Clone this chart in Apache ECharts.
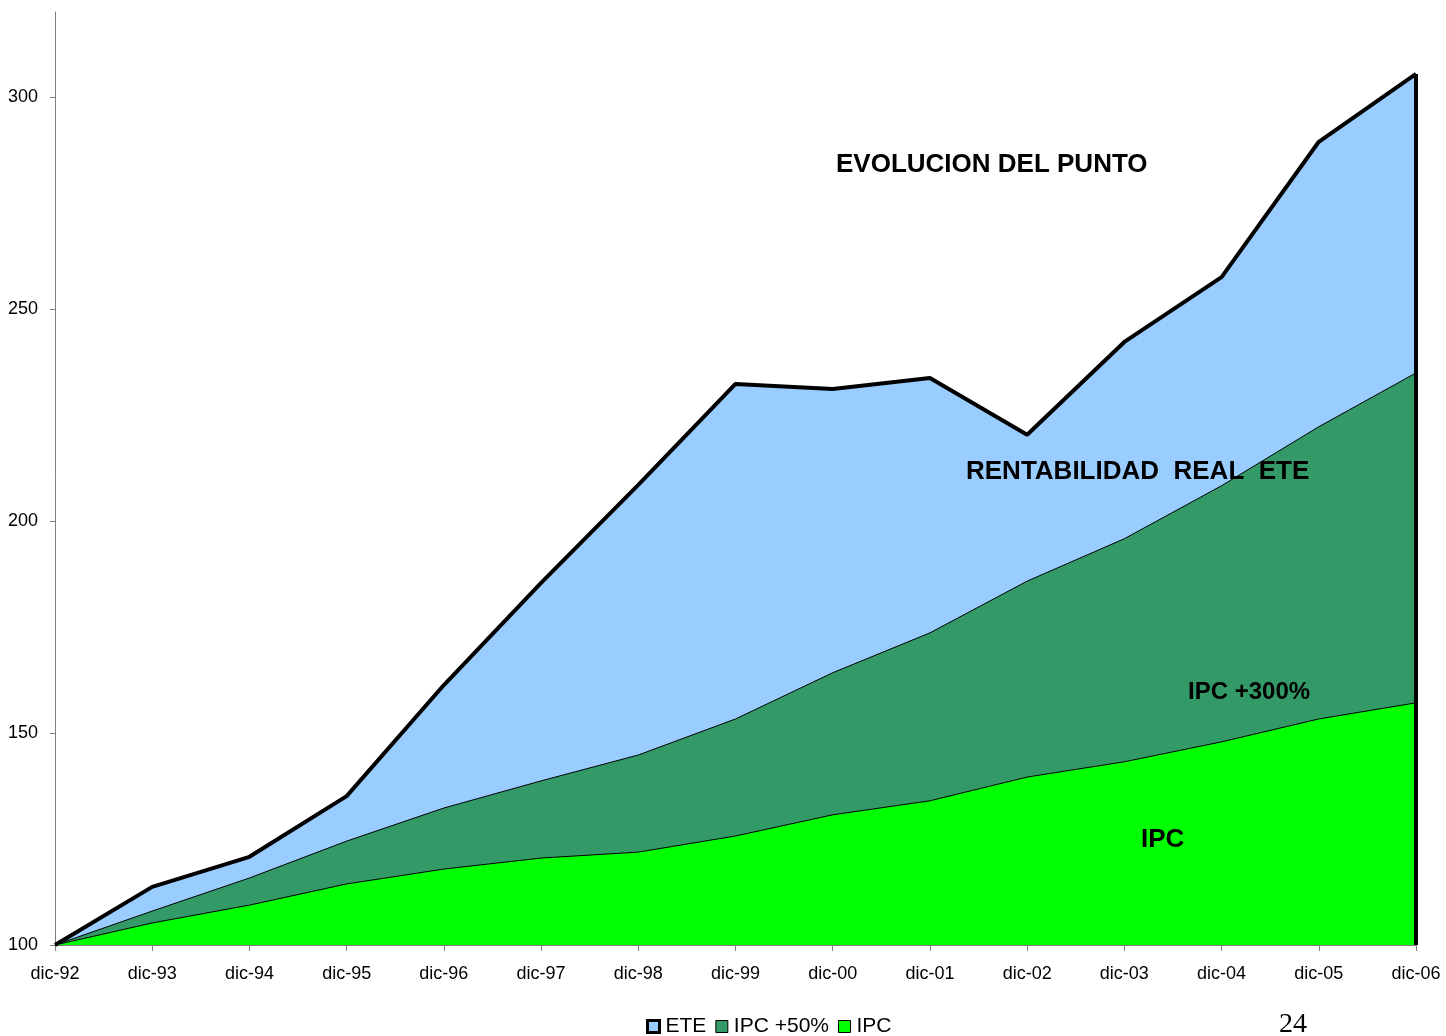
<!DOCTYPE html>
<html>
<head>
<meta charset="utf-8">
<title>Evolucion del punto</title>
<style>
  html, body { margin: 0; padding: 0; background: #fff; }
  #main { width: 1446px; height: 1036px; }
</style>
</head>
<body>
<div id="main"></div>
<script src="https://cdn.jsdelivr.net/npm/echarts@6/dist/echarts.min.js"></script>
<script>
// datos
var categorias = ['dic-92','dic-93','dic-94','dic-95','dic-96','dic-97','dic-98','dic-99',
                  'dic-00','dic-01','dic-02','dic-03','dic-04','dic-05','dic-06'];
var ete     = [100, 113.7, 120.8, 135.1, 161.3, 185.4, 208.5, 232.3, 231.1, 233.7, 220.3, 242.2, 257.5, 289.4, 305.4];
var ipc50   = [100, 108.0, 115.8, 124.5, 132.3, 138.7, 144.8, 153.3, 164.2, 173.6, 185.8, 195.8, 208.3, 222.2, 234.9];
var ipc     = [100, 105.2, 109.4, 114.4, 117.9, 120.5, 121.9, 125.7, 130.7, 134.0, 139.6, 143.2, 147.9, 153.3, 157.1];
var yTicks  = [100, 150, 200, 250, 300];

var myChart = echarts.init(document.getElementById('main'));
var fuente = '"Liberation Sans", Arial, sans-serif';

var option = {
    animation: false,
    backgroundColor: '#fff',
    grid: { left: 55, right: 30, top: 12, bottom: 91 },
    legend: {
        top: 1011,
        left: 641,
        itemWidth: 12,
        itemHeight: 12,
        itemGap: 9,
        icon: 'rect',
        textStyle: { fontFamily: fuente, fontSize: 21, color: '#000', padding: [0, 0, 0, 1] },
        data: [
            { name: 'ETE', itemStyle: { color: '#99ccff', borderColor: '#000', borderWidth: 3 } },
            { name: 'IPC +50%', itemStyle: { color: '#339966', borderColor: '#000', borderWidth: 1 } },
            { name: 'IPC', itemStyle: { color: '#00ff00', borderColor: '#000', borderWidth: 1 } }
        ]
    },
    xAxis: {
        type: 'category',
        boundaryGap: false,
        data: categorias,
        axisLine: { lineStyle: { color: '#808080', width: 1 } },
        axisTick: { alignWithLabel: true, length: 6, lineStyle: { color: '#808080' } },
        axisLabel: { fontFamily: fuente, fontSize: 18, color: '#000', margin: 20 }
    },
    yAxis: {
        type: 'value',
        min: 100,
        max: 320,
        interval: 50,
        splitLine: { show: false },
        axisLine: { show: true, lineStyle: { color: '#808080', width: 1 } },
        axisTick: { show: true, length: 5, lineStyle: { color: '#808080' }, customValues: yTicks },
        axisLabel: { fontFamily: fuente, fontSize: 18, color: '#000', margin: 17, customValues: yTicks }
    },
    series: [
        {
            name: 'ETE',
            type: 'line',
            data: ete,
            symbol: 'none',
            z: 2,
            lineStyle: { color: '#000', width: 4 },
            itemStyle: { color: '#99ccff' },
            areaStyle: { color: '#99ccff', opacity: 1, origin: 'start' }
        },
        {
            name: 'IPC +50%',
            type: 'line',
            data: ipc50,
            symbol: 'none',
            z: 3,
            lineStyle: { color: '#000', width: 1 },
            itemStyle: { color: '#339966' },
            areaStyle: { color: '#339966', opacity: 1, origin: 'start' }
        },
        {
            name: 'IPC',
            type: 'line',
            data: ipc,
            symbol: 'none',
            z: 4,
            lineStyle: { color: '#000', width: 1 },
            itemStyle: { color: '#00ff00' },
            areaStyle: { color: '#00ff00', opacity: 1, origin: 'start' },
            markLine: {
                silent: true,
                symbol: 'none',
                label: { show: false },
                lineStyle: { color: '#000', width: 4, type: 'solid' },
                data: [[
                    { coord: [categorias[categorias.length - 1], 100] },
                    { coord: [categorias[categorias.length - 1], ete[ete.length - 1]] }
                ]]
            }
        }
    ],
    graphic: [
        { type: 'text', left: 836, top: 152, z: 10,
          style: { text: 'EVOLUCION DEL PUNTO', font: 'bold 26px ' + fuente, fill: '#000' } },
        { type: 'text', left: 966, top: 459, z: 10,
          style: { text: 'RENTABILIDAD  REAL  ETE', font: 'bold 26px ' + fuente, fill: '#000' } },
        { type: 'text', left: 1188, top: 680, z: 10,
          style: { text: 'IPC +300%', font: 'bold 24px ' + fuente, fill: '#000' } },
        { type: 'text', left: 1141, top: 827, z: 10,
          style: { text: 'IPC', font: 'bold 26px ' + fuente, fill: '#000' } },
        { type: 'text', left: 1279, top: 1011, z: 10,
          style: { text: '24', font: '28px "Liberation Serif", "Times New Roman", serif', fill: '#000' } }
    ]
};

myChart.setOption(option);
</script>
</body>
</html>
